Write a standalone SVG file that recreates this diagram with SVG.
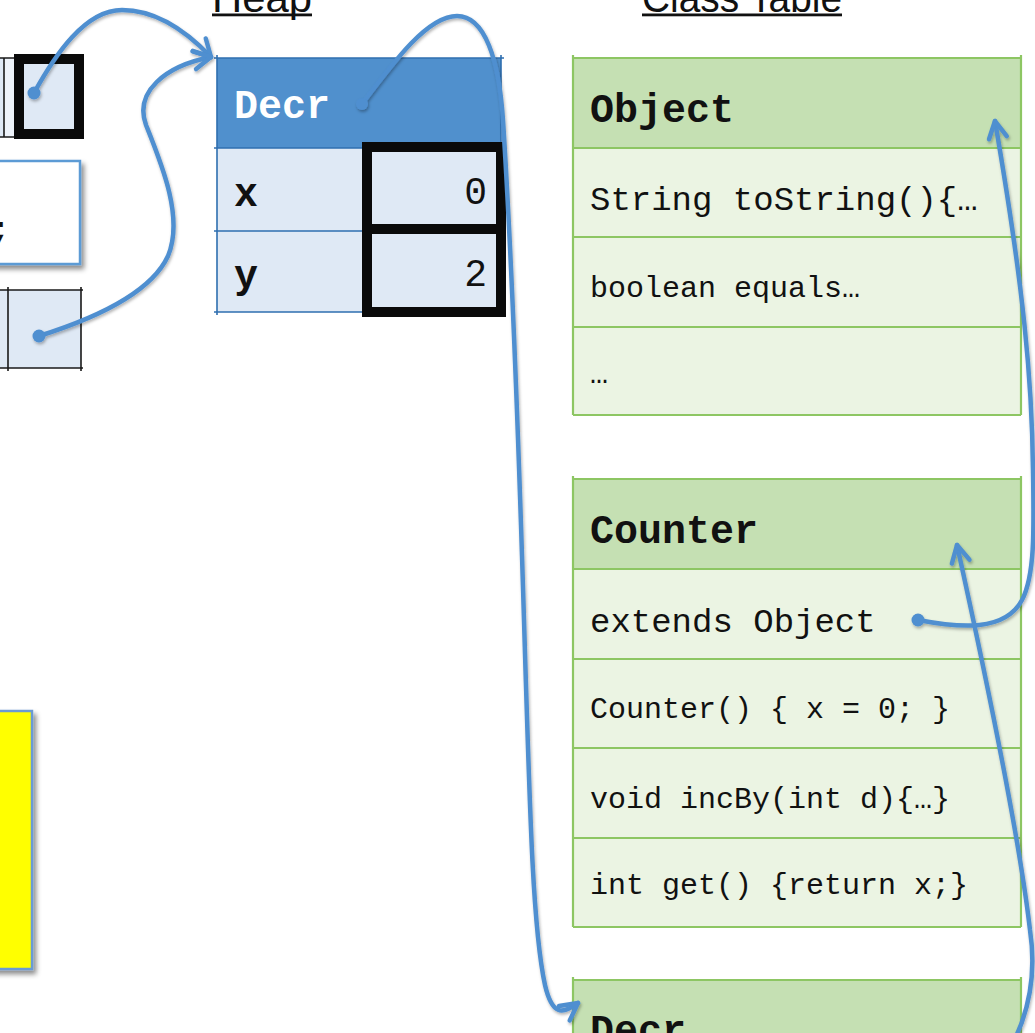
<svg xmlns="http://www.w3.org/2000/svg" width="1035" height="1033" viewBox="0 0 1035 1033">
  <defs>
    <style>
      .title { font-family: "Liberation Sans", Arial, sans-serif; font-size: 40px; fill: #111; }
      .mono { font-family: "Liberation Mono", "Courier New", monospace; fill: #111; }
      .hd { font-size: 40px; font-weight: bold; }
      .big { font-size: 34px; }
      .sm { font-size: 30px; }
      .heap-head { fill: #5090cd; }
      .heap-cell { fill: #dfe9f5; }
      .heap-line { stroke: #2f6fb0; stroke-width: 1.6; fill: none; }
      .val-box { fill: none; stroke: #0a0a0a; stroke-width: 10; }
      .cls-head { fill: #c5e0b3; }
      .cls-row { fill: #ebf4e3; }
      .cls-line { stroke: #8dc663; stroke-width: 2.2; fill: none; }
      .cell-line { stroke: #1a1a1a; stroke-width: 1.6; fill: none; }
      .conn { fill: none; stroke: #4f8fd0; stroke-width: 4.5; stroke-linecap: round; }
      .dot { fill: #4f8fd0; }
    </style>
    <marker id="arrow" viewBox="-22 -13 26 26" refX="0" refY="0" markerWidth="26" markerHeight="26" markerUnits="userSpaceOnUse" orient="auto" overflow="visible">
      <path d="M-17,-9 L0,0 L-17,9" fill="none" stroke="#4f8fd0" stroke-width="4.5" stroke-linecap="round" stroke-linejoin="round"/>
    </marker>
    <filter id="shadow" x="-20%" y="-20%" width="140%" height="140%">
      <feDropShadow dx="3" dy="4" stdDeviation="2.5" flood-color="#000" flood-opacity="0.45"/>
    </filter>
    <filter id="lineShadow" x="-10%" y="-10%" width="120%" height="120%">
      <feDropShadow dx="1" dy="2" stdDeviation="1.5" flood-color="#000" flood-opacity="0.3"/>
    </filter>
  </defs>

  <rect x="0" y="0" width="1035" height="1033" fill="#ffffff"/>

  <!-- section titles -->
  <g id="title-heap">
    <text class="title" x="212" y="12" textLength="100" lengthAdjust="spacingAndGlyphs">Heap</text>
    <rect x="212" y="13.5" width="100" height="2.8" fill="#111"/>
  </g>
  <g id="title-class-table">
    <text class="title" x="642" y="12" textLength="200" lengthAdjust="spacingAndGlyphs">Class Table</text>
    <rect x="642" y="13.5" width="200" height="2.8" fill="#111"/>
  </g>

  <!-- stack cells on the left -->
  <g id="stack-ref-top">
    <rect x="-60" y="58" width="64" height="79" class="heap-cell"/>
    <rect x="4" y="58" width="12" height="79" fill="#eef3fa"/>
    <path class="cell-line" d="M-60,58 H16 M-60,137 H16 M4,58 V137"/>
    <rect x="19" y="59" width="60" height="75" class="heap-cell"/>
    <rect x="19" y="59" width="60" height="75" class="val-box"/>
  </g>
  <g id="stack-frame-box">
    <rect x="-20" y="161" width="100" height="103" fill="#ffffff" stroke="#5b9bd5" stroke-width="2.5" filter="url(#shadow)"/>
    <text class="mono big" x="-10" y="240" font-weight="bold">;</text>
  </g>
  <g id="stack-ref-bottom">
    <rect x="-60" y="290" width="141" height="78" class="heap-cell"/>
    <path class="cell-line" d="M-60,290 H83 M-60,368 H83 M8,287 V371 M81,287 V371"/>
  </g>
  <g id="note-yellow">
    <rect x="-20" y="711" width="52" height="258" fill="#ffff00" stroke="#6b9bd2" stroke-width="2.5" filter="url(#shadow)"/>
  </g>

  <!-- heap object: Decr -->
  <g id="heap-decr">
    <rect x="217" y="58" width="284" height="90" class="heap-head"/>
    <rect x="217" y="148" width="284" height="164" class="heap-cell"/>
    <path class="heap-line" d="M214,58 H504 M214,148 H504 M214,231 H504 M214,312 H504 M217,55 V315 M501,55 V150"/>
    <rect x="367" y="147" width="134" height="82" class="val-box"/>
    <rect x="367" y="229" width="134" height="83" class="val-box"/>
    <text class="mono hd" x="234" y="118" fill="#ffffff" style="fill:#ffffff">Decr</text>
    <text class="mono hd" x="234" y="206">x</text>
    <text class="mono hd" x="234" y="288">y</text>
    <text class="mono" x="487" y="204" font-size="38" text-anchor="end">0</text>
    <text class="mono" x="487" y="286" font-size="38" text-anchor="end">2</text>
  </g>

  <!-- class table: Object -->
  <g id="class-object">
    <rect x="573" y="58" width="448" height="90" class="cls-head"/>
    <rect x="573" y="148" width="448" height="267" class="cls-row"/>
    <path class="cls-line" d="M573,55 V415 M1021,55 V415 M573,58 H1021 M573,148 H1021 M573,237 H1021 M573,327 H1021 M573,415 H1021"/>
    <text class="mono hd" x="590" y="122">Object</text>
    <text class="mono big" x="590" y="210">String toString(){…</text>
    <text class="mono sm" x="590" y="297">boolean equals…</text>
    <text class="mono sm" x="590" y="383">…</text>
  </g>

  <!-- class table: Counter -->
  <g id="class-counter">
    <rect x="573" y="479" width="448" height="90" class="cls-head"/>
    <rect x="573" y="569" width="448" height="358" class="cls-row"/>
    <path class="cls-line" d="M573,476 V927 M1021,476 V927 M573,479 H1021 M573,569 H1021 M573,659 H1021 M573,748 H1021 M573,838 H1021 M573,927 H1021"/>
    <text class="mono hd" x="590" y="543">Counter</text>
    <text class="mono big" x="590" y="632">extends Object</text>
    <text class="mono sm" x="590" y="718">Counter() { x = 0; }</text>
    <text class="mono sm" x="590" y="808">void incBy(int d){…}</text>
    <text class="mono sm" x="590" y="894">int get() {return x;}</text>
  </g>

  <!-- class table: Decr -->
  <g id="class-decr">
    <rect x="573" y="980" width="448" height="60" class="cls-head"/>
    <path class="cls-line" d="M573,977 V1040 M1021,977 V1040 M573,980 H1021"/>
    <text class="mono hd" x="590" y="1043">Decr</text>
  </g>

  <!-- references -->
  <g id="connectors" filter="url(#lineShadow)">
    <path class="conn" marker-end="url(#arrow)" d="M34,93 C55,55 85,10 122,10 C160,10 190,35 211,57"/>
    <path class="conn" marker-end="url(#arrow)" d="M39,336 C90,320 150,295 168,256 C184,218 162,165 146,125 C134,92 165,66 211,57"/>
    <path class="conn" marker-end="url(#arrow)" d="M362,104 C395,60 428,16 457,16 C485,16 499,60 503,120 C510,230 518,420 524,620 C530,820 533,930 545,985 C552,1015 562,1015 578,1003"/>
    <path class="conn" marker-end="url(#arrow)" d="M918,620 C960,628 1005,632 1022,600 C1035,575 1034,530 1033,470 C1032,380 1024,290 995,121"/>
    <path class="conn" marker-end="url(#arrow)" d="M1012,1045 C1030,1010 1036,970 1030,930 C1022,860 1000,740 957,545"/>
    <circle class="dot" cx="34" cy="93" r="6.5"/>
    <circle class="dot" cx="39" cy="336" r="6.5"/>
    <circle class="dot" cx="362" cy="104" r="6"/>
    <circle class="dot" cx="918" cy="620" r="6.5"/>
  </g>
</svg>
